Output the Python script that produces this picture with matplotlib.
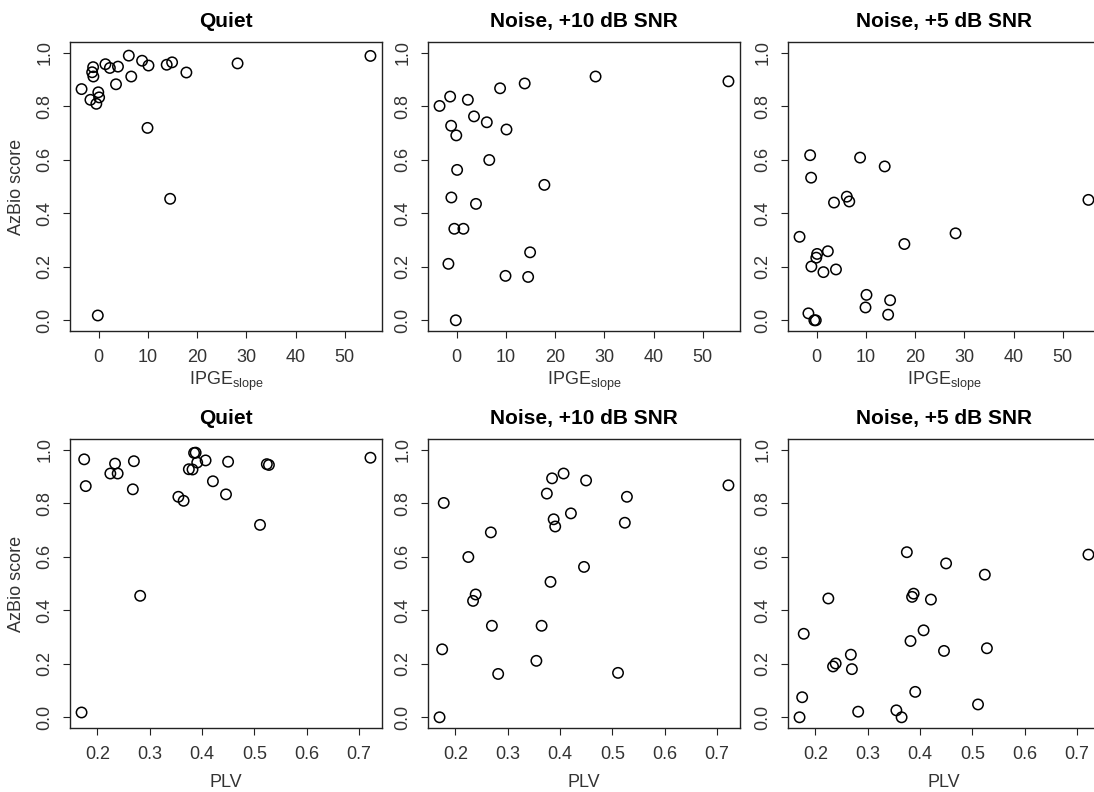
import matplotlib
matplotlib.use('Agg')
from matplotlib import pyplot as plt

# one entry per subject
ipge_slope = [-0.2, 14.9, -3.5, 6.6, 3.9, -1.1, -0.1, 1.35, 14.5, -1.7, -0.5, -1.35,
              17.8, 55.2, 6.1, 10.1, 28.2, 3.5, 0.07, 13.8, 9.9, -1.15, 2.25, 8.8]
plv = [0.170, 0.175, 0.178, 0.225, 0.234, 0.239, 0.268, 0.270, 0.282, 0.355, 0.365, 0.375,
       0.382, 0.385, 0.388, 0.391, 0.407, 0.421, 0.446, 0.450, 0.511, 0.524, 0.528, 0.722]
quiet = [0.018, 0.964, 0.864, 0.911, 0.948, 0.911, 0.852, 0.957, 0.454, 0.824, 0.809, 0.927,
         0.926, 0.988, 0.989, 0.952, 0.960, 0.882, 0.833, 0.955, 0.719, 0.946, 0.943, 0.970]
noise10 = [0.000, 0.254, 0.801, 0.599, 0.435, 0.459, 0.691, 0.342, 0.162, 0.211, 0.342, 0.836,
           0.506, 0.893, 0.740, 0.713, 0.911, 0.762, 0.562, 0.885, 0.166, 0.727, 0.824, 0.867]
noise5 = [0.000, 0.075, 0.312, 0.444, 0.190, 0.201, 0.234, 0.180, 0.021, 0.026, 0.000, 0.617,
          0.285, 0.450, 0.462, 0.095, 0.325, 0.440, 0.248, 0.575, 0.048, 0.533, 0.258, 0.608]

titles = ['Quiet', 'Noise, +10 dB SNR', 'Noise, +5 dB SNR']
scores = [quiet, noise10, noise5]

plt.rcParams['font.family'] = ['Liberation Sans', 'DejaVu Sans']
plt.rcParams['mathtext.fontset'] = 'custom'
plt.rcParams['mathtext.rm'] = 'Liberation Sans'

W, H = 1094, 792
fig = plt.figure(figsize=(W / 100, H / 100), dpi=100)

lefts = [70, 428, 788]
tops = [42, 439]
pw, ph = 312, 289

rows = [(ipge_slope, r'IPGE$_{\mathrm{slope}}$', [0, 10, 20, 30, 40, 50], 3),
        (plv, 'PLV', [0.2, 0.3, 0.4, 0.5, 0.6, 0.7], 8)]

for r, (xs, xlabel, xticks, lpad) in enumerate(rows):
    for c in range(3):
        ax = fig.add_axes([lefts[c] / W, 1 - (tops[r] + ph) / H, pw / W, ph / H])
        ax.scatter(xs, scores[c], s=56, facecolors='none', edgecolors='black', linewidths=1.1)
        ax.margins(x=0.04)
        ax.set_ylim(-0.04, 1.04)
        ax.set_xticks(xticks)
        ax.set_yticks([0.0, 0.2, 0.4, 0.6, 0.8, 1.0])
        ax.set_yticklabels(['0.0', '0.2', '0.4', '0.6', '0.8', '1.0'], rotation=90, va='center')
        ax.tick_params(direction='out', length=5, width=0.8, labelsize=13,
                       colors='#222222', labelcolor='#333333')
        ax.tick_params(axis='x', pad=8)
        ax.tick_params(axis='y', pad=7)
        for sp in ax.spines.values():
            sp.set_color('#222222')
            sp.set_linewidth(1.0)
        ax.set_title(titles[c], fontsize=15, fontweight='bold', pad=11)
        ax.set_xlabel(xlabel, fontsize=13, color='#333333', labelpad=lpad)
        if c == 0:
            ax.set_ylabel('AzBio score', fontsize=13, color='#333333', labelpad=8)

fig.savefig('out.png', dpi=100)
